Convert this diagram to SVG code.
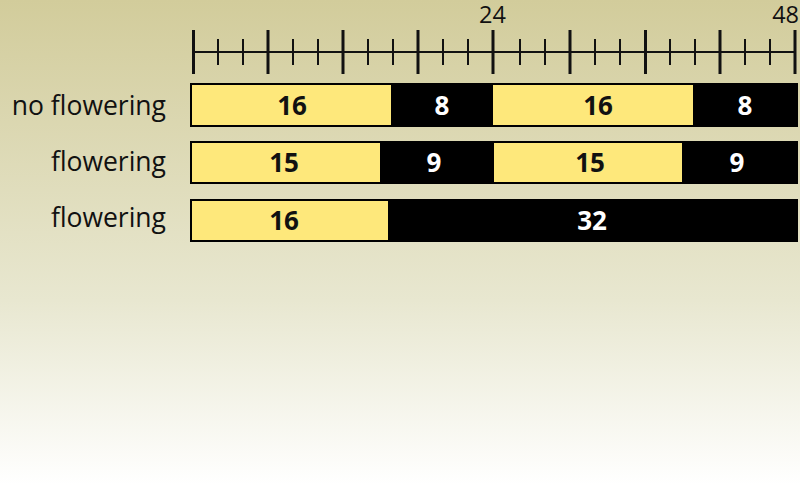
<svg xmlns="http://www.w3.org/2000/svg" width="800" height="500" viewBox="0 0 800 500">
<defs>
<linearGradient id="bg" x1="0" y1="0" x2="0" y2="1">
<stop offset="0" stop-color="#d2cc9b"/>
<stop offset="0.6" stop-color="#e8e7d0"/>
<stop offset="0.97" stop-color="#ffffff"/>
<stop offset="1" stop-color="#ffffff"/>
</linearGradient>
<style>
.lbl{font-family:"Open Sans","Liberation Sans",sans-serif;font-size:26.5px;fill:#111;text-anchor:end}
.ax{font-family:"Open Sans","Liberation Sans",sans-serif;font-size:23.5px;fill:#111}
.num{font-family:"Open Sans","Liberation Sans",sans-serif;font-size:26px;font-weight:bold;text-anchor:middle}
.y{fill:#fee87b}
.k{fill:#000}
.frame{fill:none;stroke:#000;stroke-width:2}
.maj{stroke:#111;stroke-width:3}
.min{stroke:#111;stroke-width:2}
</style>
</defs>
<rect width="800" height="500" fill="url(#bg)"/>
<g id="axis">
<line x1="193" y1="52" x2="796" y2="52" class="min"/>
<g class="maj">
<line x1="193.5" y1="30" x2="193.5" y2="74"/>
<line x1="268" y1="30" x2="268" y2="74"/>
<line x1="343" y1="30" x2="343" y2="74"/>
<line x1="418" y1="30" x2="418" y2="74"/>
<line x1="493" y1="30" x2="493" y2="74"/>
<line x1="570" y1="30" x2="570" y2="74"/>
<line x1="645.5" y1="30" x2="645.5" y2="74"/>
<line x1="720" y1="30" x2="720" y2="74"/>
<line x1="795" y1="30" x2="795" y2="74"/>
</g>
<g class="min">
<line x1="218" y1="39" x2="218" y2="65"/>
<line x1="243" y1="39" x2="243" y2="65"/>
<line x1="293" y1="39" x2="293" y2="65"/>
<line x1="318" y1="39" x2="318" y2="65"/>
<line x1="368" y1="39" x2="368" y2="65"/>
<line x1="393" y1="39" x2="393" y2="65"/>
<line x1="443" y1="39" x2="443" y2="65"/>
<line x1="468" y1="39" x2="468" y2="65"/>
<line x1="520" y1="39" x2="520" y2="65"/>
<line x1="545" y1="39" x2="545" y2="65"/>
<line x1="595" y1="39" x2="595" y2="65"/>
<line x1="620" y1="39" x2="620" y2="65"/>
<line x1="670" y1="39" x2="670" y2="65"/>
<line x1="695" y1="39" x2="695" y2="65"/>
<line x1="745" y1="39" x2="745" y2="65"/>
<line x1="770" y1="39" x2="770" y2="65"/>
</g>
<text class="ax" x="492.5" y="22.5" text-anchor="middle">24</text>
<text class="ax" x="799" y="22.5" text-anchor="end">48</text>
</g>
<g id="row1">
<text class="lbl" x="166" y="115">no flowering</text>
<rect class="y" x="191" y="84" width="200" height="42"/>
<rect class="k" x="391" y="84" width="102" height="42"/>
<rect class="y" x="493" y="84" width="200" height="42"/>
<rect class="k" x="693" y="84" width="104" height="42"/>
<rect class="frame" x="191" y="84" width="606" height="42"/>
<text class="num" x="292" y="115" fill="#111">16</text>
<text class="num" x="442" y="115" fill="#fff">8</text>
<text class="num" x="598" y="115" fill="#111">16</text>
<text class="num" x="745" y="115" fill="#fff">8</text>
</g>
<g id="row2">
<text class="lbl" x="166" y="171">flowering</text>
<rect class="y" x="191" y="142" width="189" height="41"/>
<rect class="k" x="380" y="142" width="114" height="41"/>
<rect class="y" x="494" y="142" width="188" height="41"/>
<rect class="k" x="682" y="142" width="115" height="41"/>
<rect class="frame" x="191" y="142" width="606" height="41"/>
<text class="num" x="284" y="172" fill="#111">15</text>
<text class="num" x="434" y="172" fill="#fff">9</text>
<text class="num" x="590" y="172" fill="#111">15</text>
<text class="num" x="737" y="172" fill="#fff">9</text>
</g>
<g id="row3">
<text class="lbl" x="166" y="227">flowering</text>
<rect class="y" x="191" y="200" width="197" height="41"/>
<rect class="k" x="388" y="200" width="409" height="41"/>
<rect class="frame" x="191" y="200" width="606" height="41"/>
<text class="num" x="284" y="230" fill="#111">16</text>
<text class="num" x="592" y="230" fill="#fff">32</text>
</g>
</svg>
